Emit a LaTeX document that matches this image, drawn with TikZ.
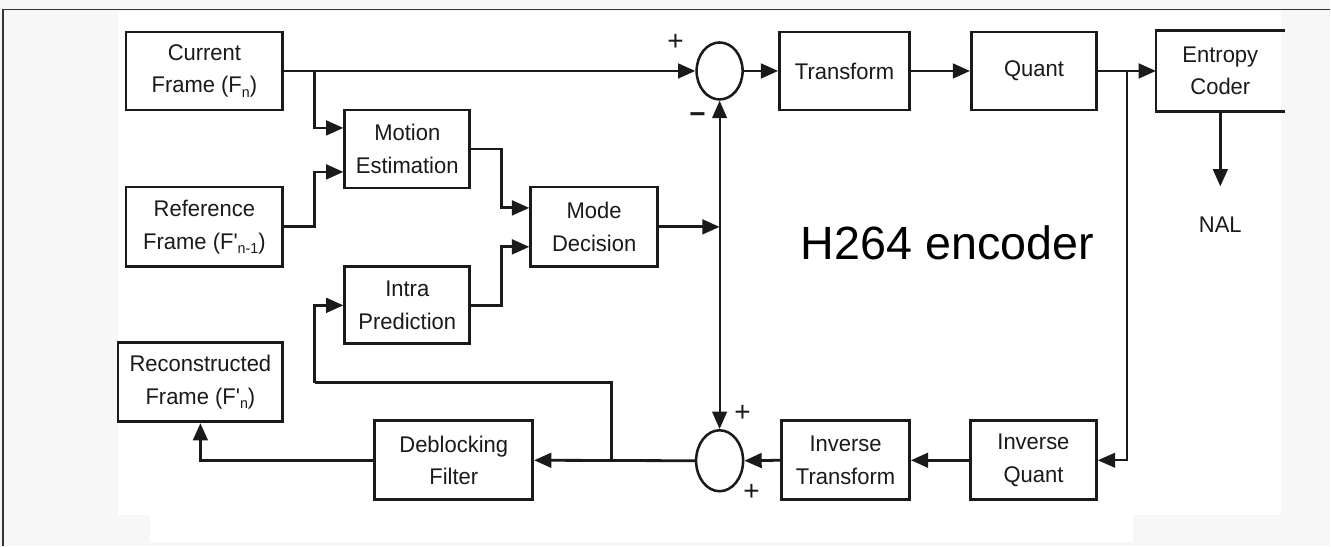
\documentclass[tikz,border=0pt]{standalone}
\usepackage{fontspec}
\setmainfont{Liberation Sans}
\newfontfamily\boxfont[FakeStretch=0.97]{Liberation Sans}
\usetikzlibrary{arrows.meta,calc,shapes.geometric}
\definecolor{outerbg}{HTML}{F7F7F7}
\definecolor{ink}{HTML}{1A1A1A}
\definecolor{framec}{HTML}{333333}
\newcommand{\sbs}[1]{\raisebox{-0.35ex}{\fontsize{11}{11}\selectfont #1}}
\begin{document}
\begin{tikzpicture}[x=0.75pt,y=-0.75pt,
  blk/.style={draw=ink,line width=2.1pt,inner sep=0pt,align=center,
    font=\boxfont\fontsize{17}{24.5}\selectfont,text=ink},
  sum/.style={draw=ink,line width=1.9pt,ellipse,inner sep=0pt},
  arr/.style={draw=ink,line width=2.1pt,-{Triangle[length=13pt,width=11pt]}},
  tarr/.style={draw=ink,line width=1.4pt,-{Triangle[length=13pt,width=11pt]}},
  sign/.style={font=\fontsize{21}{21}\selectfont,text=ink,inner sep=0pt}]
% background
\fill[outerbg] (0,0) rectangle (1331,546);
\fill[white] (118,11) rectangle (1282,515);
\fill[white] (150,515) rectangle (1134,542);
\draw[framec,line width=1.1pt] (1331,9.5) -- (3,9.5) -- (3,546);
\useasboundingbox (0,0) rectangle (1331,546);
% blocks
\node[blk,minimum width=117.75pt,minimum height=58.5pt] (cur) at (204.5,71) {Current\\Frame (F\sbs{n})};
\node[blk,minimum width=117.75pt,minimum height=60pt] (ref) at (204.5,227) {Reference\\Frame (F'\sbs{n-1})};
\node[blk,minimum width=123.75pt,minimum height=59.25pt] (rec) at (200.5,382.5) {Reconstructed\\Frame (F'\sbs{n})};
\node[blk,minimum width=93.75pt,minimum height=58.5pt] (me) at (407.5,149) {Motion\\Estimation};
\node[blk,minimum width=93.75pt,minimum height=57.75pt] (ip) at (407.5,305.5) {Intra\\Prediction};
\node[blk,minimum width=95.25pt,minimum height=60pt] (md) at (594.5,227) {Mode\\Decision};
\node[blk,minimum width=118.5pt,minimum height=59.25pt] (df) at (454,460.5) {Deblocking\\Filter};
\node[blk,minimum width=97.5pt,minimum height=58.5pt] (tr) at (845,71) {Transform};
\node[blk,minimum width=93.75pt,minimum height=58.5pt] (qu) at (1034.5,71) {Quant};
\node[blk,draw=none,minimum width=94.5pt,minimum height=58.5pt] (ec) at (1221,71) {Entropy\\Coder};
\draw[ink,line width=2.1pt] (ec.north east) -- (ec.north west) -- (ec.south west) -- (ec.south east);
\node[blk,minimum width=96pt,minimum height=59.25pt] (it) at (846,460.5) {Inverse\\Transform};
\node[blk,minimum width=94.5pt,minimum height=59.25pt] (iq) at (1034,460.5) {Inverse\\Quant};
\node[blk,draw=none] (nal) at (1221,225) {NAL};
\node[sum,minimum width=34.5pt,minimum height=42.75pt] (add1) at (720,71) {};
\node[sum,minimum width=35.25pt,minimum height=45.75pt] (add2) at (720,461) {};
% title
\node[font=\fontsize{35}{35}\selectfont,text=black,inner sep=0pt] (title) at (948,243) {H264 encoder};
% signs
\node[sign] (s1) at (676,42) {+};
\node[sign] (s2) at (698,118) {\textbf{\char"2212}};
\node[sign] (s3) at (743,414) {+};
\node[sign] (s4) at (752,493) {+};
% junctions
\coordinate (j1) at (315,71);
\coordinate (j3) at (1128,71);
\coordinate (j4) at (612,461);
% connectors
\draw[arr] (cur.east) -- (add1.west);
\draw[arr] (j1) |- ($(me.west)+(0,-21)$);
\draw[arr] (ref.east) -- (315,227) |- ($(me.west)+(0,23)$);
\draw[arr] (me.east) -- (502,149) |- ($(md.west)+(0,-19)$);
\draw[arr] (ip.east) -- (502,305.5) |- ($(md.west)+(0,20)$);
\draw[arr] (md.east) -- (add1.south |- md.east);
\draw[draw=ink,line width=1.4pt,{Triangle[length=13pt,width=11pt]}-{Triangle[length=13pt,width=11pt]}] (add1.south) -- (add2.north);
\draw[arr] (add1.east) -- (tr.west);
\draw[arr] (tr.east) -- (qu.west);
\draw[arr] (qu.east) -- (ec.west);
\draw[tarr] (j3) |- (iq.east);
\draw[arr] (ec.south) -- ([yshift=22pt]nal.north);
\draw[arr] (iq.west) -- (it.east);
\draw[arr] (it.west) -- (add2.east);
\draw[arr] (add2.west) -- (df.east);
\draw[line width=2.1pt,draw=ink] (j4) |- (315,383);
\draw[arr] (315,383) |- (ip.west);
\draw[arr] (df.west) -| (rec.south);
\end{tikzpicture}
\end{document}
